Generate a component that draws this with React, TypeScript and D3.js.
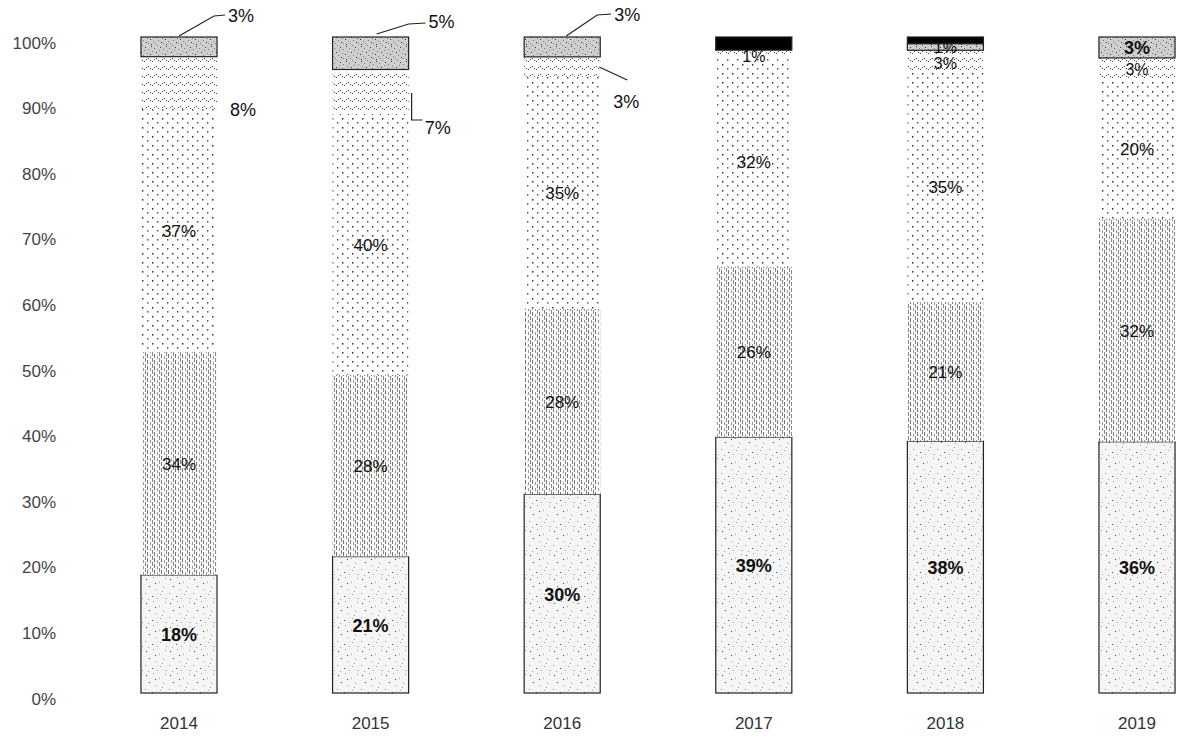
import React from "react";
import * as d3 from "d3";

const years = ["2014", "2015", "2016", "2017", "2018", "2019"];
const seriesKeys = ["base", "lines", "dots", "zigzag", "gray", "black"];
const baseVals = [18, 21, 30, 39, 38, 36];
const linesVals = [34, 28, 28, 26, 21, 32];
const dotsVals = [37, 40, 35, 32, 35, 20];
const zigzagVals = [8, 7, 3, 1, 3, 3];
const grayVals = [3, 5, 3, 0, 1, 3];
const blackVals = [0, 0, 0, 2, 1, 0];
const yTicks = [0, 10, 20, 30, 40, 50, 60, 70, 80, 90, 100];

const W = 1178;
const H = 743;
const FONT = "'Liberation Sans', Arial, sans-serif";

const rows = years.map((y, i) => ({
  year: y,
  base: baseVals[i],
  lines: linesVals[i],
  dots: dotsVals[i],
  zigzag: zigzagVals[i],
  gray: grayVals[i],
  black: blackVals[i],
}));

const fills: Record<string, string> = {
  base: "url(#pBase)",
  lines: "url(#pLines)",
  dots: "url(#pDots)",
  zigzag: "url(#pZig)",
  gray: "url(#pGray)",
  black: "#000",
};
const bordered: Record<string, boolean> = { base: true, gray: true, black: true };

// deterministic speckle coordinates for the pattern tiles
const speckA = [
  [2, 3], [9, 1], [15, 6], [21, 2], [5, 10], [12, 13], [19, 11], [1, 17], [8, 20], [16, 18], [22, 22], [4, 23], [11, 7], [18, 15], [13, 22],
];
const speckB = [
  [1, 1], [4, 3], [7, 0], [10, 2], [13, 4], [2, 6], [6, 7], [9, 5], [12, 8], [0, 9], [3, 11], [8, 10], [11, 12], [5, 13], [13, 13], [1, 14],
];

export default function App() {
  const x = d3
    .scaleBand<string>()
    .domain(years)
    .range([83.2, 1232.8])
    .paddingInner(0.603)
    .paddingOuter(0.3015);
  const y = d3.scaleLinear().domain([0, 1]).range([693, 37]);

  const stack = d3
    .stack<any>()
    .keys(seriesKeys)
    .offset(d3.stackOffsetExpand);
  const series = stack(rows);

  const bw = x.bandwidth();

  const callouts: Record<string, { path: string; tx: number; ty: number } | null> = {};
  const cx = (yr: string) => (x(yr) as number) + bw / 2;
  const rx = (yr: string) => (x(yr) as number) + bw;
  callouts["2014-gray"] = {
    path: `M${cx("2014")},${y(1) - 1} L${cx("2014") + 35},${y(1) - 21} L${cx("2014") + 46},${y(1) - 22}`,
    tx: cx("2014") + 49,
    ty: 16,
  };
  callouts["2014-zigzag"] = { path: "", tx: rx("2014") + 13, ty: 110 };
  callouts["2015-gray"] = {
    path: `M${cx("2015") + 6},${y(1) - 3} L${cx("2015") + 38},${y(1) - 13} L${cx("2015") + 55},${y(1) - 14}`,
    tx: cx("2015") + 58,
    ty: 22,
  };
  callouts["2015-zigzag"] = {
    path: `M${rx("2015") + 3},${93} L${rx("2015") + 3},${120} L${rx("2015") + 14},${120}`,
    tx: rx("2015") + 16,
    ty: 128,
  };
  callouts["2016-gray"] = {
    path: `M${cx("2016") + 4},${y(1) - 1} L${cx("2016") + 35},${y(1) - 22} L${cx("2016") + 49},${y(1) - 23}`,
    tx: cx("2016") + 52,
    ty: 15,
  };
  callouts["2016-zigzag"] = {
    path: `M${rx("2016") - 1},${67} L${rx("2016") + 27},${80}`,
    tx: rx("2016") + 13,
    ty: 102,
  };

  return (
    <svg
      width={W}
      height={H}
      style={{ position: "absolute", left: 0, top: 0, background: "#fff" }}
      fontFamily={FONT}
    >
      <defs>
        <pattern id="pBase" width={24} height={24} patternUnits="userSpaceOnUse">
          <rect width={24} height={24} fill="#f5f5f5" />
          {speckA.map(([a, b], i) => (
            <rect key={i} x={a} y={b} width={1} height={1} fill={i % 4 === 0 ? "#444" : "#999"} />
          ))}
        </pattern>
        <pattern id="pLines" width={7} height={6} patternUnits="userSpaceOnUse">
          <rect width={7} height={6} fill="#fafafa" />
          <rect x={0} y={0} width={1} height={4} fill="#777" />
          <rect x={3} y={2} width={1} height={3} fill="#999" />
          <rect x={5} y={0} width={1} height={2} fill="#888" />
          <rect x={5} y={4} width={1} height={2} fill="#888" />
        </pattern>
        <pattern id="pDots" width={10} height={9} patternUnits="userSpaceOnUse">
          <rect width={10} height={9} fill="#fff" />
          <rect x={2} y={1} width={1.4} height={1.6} fill="#333" />
          <rect x={7} y={5} width={1.4} height={1.6} fill="#555" />
        </pattern>
        <pattern id="pZig" width={16} height={8} patternUnits="userSpaceOnUse">
          <rect width={16} height={8} fill="#fff" />
          <path d="M0,6 L4,2 L8,6 L12,2 L16,6" fill="none" stroke="#444" strokeWidth={1} strokeDasharray="1.6 1.2" />
        </pattern>
        <pattern id="pGray" width={15} height={15} patternUnits="userSpaceOnUse">
          <rect width={15} height={15} fill="#cfcfcf" />
          {speckB.map(([a, b], i) => (
            <rect key={i} x={a} y={b} width={1} height={1} fill={i % 3 === 0 ? "#333" : "#777"} />
          ))}
        </pattern>
      </defs>

      {yTicks.map((t) => (
        <text
          key={t}
          x={56}
          y={y(t / 100) + 6}
          textAnchor="end"
          dominantBaseline="central"
          fontSize={17}
          fill="#444"
        >
          {t}%
        </text>
      ))}

      {series.map((s) =>
        s.map((d, i) => {
          const v = (rows[i] as any)[s.key];
          if (!v) return null;
          const x0 = x(years[i]) as number;
          const yTop = y(d[1]);
          const yBot = y(d[0]);
          return (
            <rect
              key={s.key + i}
              x={x0}
              y={yTop}
              width={bw}
              height={Math.max(0, yBot - yTop)}
              fill={fills[s.key]}
              stroke={bordered[s.key] ? "#222" : "none"}
              strokeWidth={bordered[s.key] ? 1.2 : 0}
            />
          );
        })
      )}

      {Object.values(callouts).map((c, i) =>
        c && c.path ? <path key={i} d={c.path} fill="none" stroke="#222" strokeWidth={1.2} /> : null
      )}

      {series.map((s) =>
        s.map((d, i) => {
          const v = (rows[i] as any)[s.key];
          // labels on the black segments are black-on-black and not visible
          if (!v || s.key === "black") return null;
          const yr = years[i];
          const c = callouts[`${yr}-${s.key}`];
          const bold = s.key === "base" || (s.key === "gray" && yr === "2019");
          if (c) {
            return (
              <text
                key={"l" + s.key + i}
                x={c.tx}
                y={c.ty}
                dominantBaseline="central"
                fontSize={18}
                fill="#111"
              >
                {v}%
              </text>
            );
          }
          const small = s.key === "zigzag" || s.key === "gray";
          const midY = y((d[0] + d[1]) / 2);
          const yy = yr === "2018" && s.key === "zigzag" ? midY + 3 : yr === "2017" && s.key === "zigzag" ? midY + 3 : midY + 1;
          return (
            <text
              key={"l" + s.key + i}
              x={cx(yr)}
              y={yy}
              textAnchor="middle"
              dominantBaseline="central"
              fontSize={s.key === "base" || (yr === "2019" && s.key === "gray") ? 18 : small ? 16 : 17}
              fontWeight={bold ? "bold" : "normal"}
              fill="#111"
            >
              {v}%
            </text>
          );
        })
      )}

      {years.map((yr) => (
        <text
          key={yr}
          x={cx(yr)}
          y={723}
          textAnchor="middle"
          dominantBaseline="central"
          fontSize={17}
          fill="#333"
        >
          {yr}
        </text>
      ))}
    </svg>
  );
}
